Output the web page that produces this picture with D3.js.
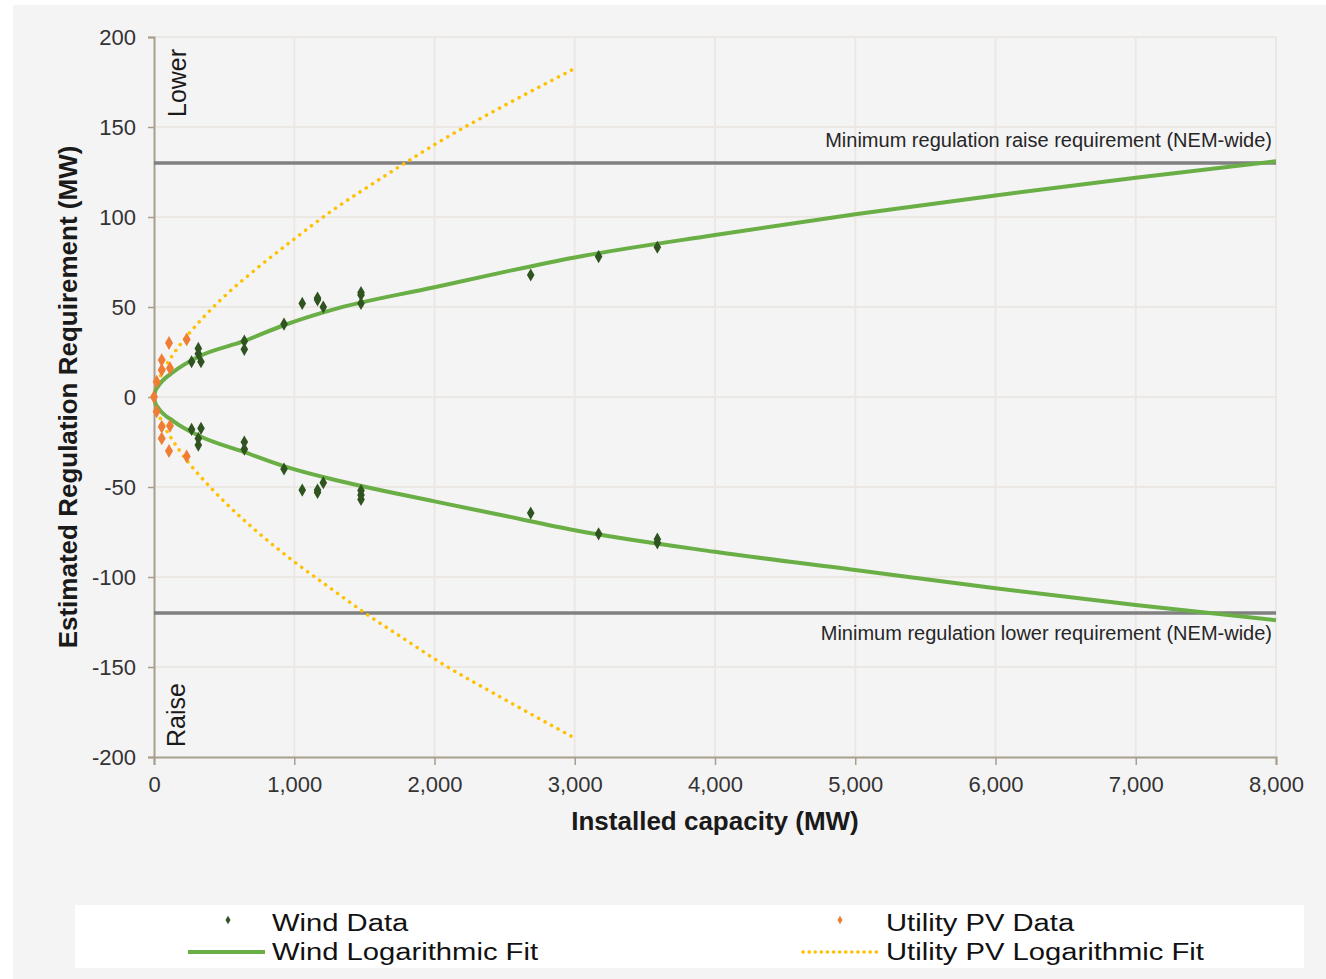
<!DOCTYPE html>
<html>
<head>
<meta charset="utf-8">
<script src="https://cdn.jsdelivr.net/npm/d3@7"></script>
<style>
  html, body { margin: 0; padding: 0; background: #ffffff; }
  svg { display: block; }
  text { font-family: "Liberation Sans", Arial, sans-serif; }
</style>
</head>
<body>
<svg id="chart" width="1326" height="979"></svg>
<script>
// ---------------- DATA ----------------
const xTicks = [0, 1000, 2000, 3000, 4000, 5000, 6000, 7000, 8000];
const yTicks = [200, 150, 100, 50, 0, -50, -100, -150, -200];

// Wind data points (installed capacity MW, requirement MW)
const windX = [268, 316, 316, 335, 644, 644, 927, 1057, 1166, 1166, 1207, 1476, 1476, 1476, 2686, 3170, 3589,
               268, 335, 316, 316, 644, 644, 927, 1057, 1166, 1166, 1207, 1476, 1476, 1476, 2686, 3170, 3589, 3589];
const windY = [19.6, 27, 24, 19.6, 31, 26.5, 40.5, 52, 55, 54, 50, 58, 56.7, 52, 67.8, 78, 83.2,
               -18, -17.4, -23, -26.7, -25, -29, -40, -51.7, -51.7, -53, -47.6, -52, -54.5, -56.9, -64.5, -76, -79, -81];

// Utility PV data points
const pvX = [0, 19, 55, 55, 107, 114, 233, 19, 55, 55, 107, 114, 233];
const pvY = [0, 8.5, 20.5, 15, 30, 16, 32, -8, -16.5, -23, -30, -16, -33];

// Wind logarithmic fit
const windFitX = [0, 8, 30, 140, 320, 640, 930, 1250, 2000, 2500, 3000, 4000, 5000, 6000, 7000, 8000];
const windFitUpper = [0, 3, 6, 14, 22.5, 31, 40, 48, 61, 69.5, 77.5, 90, 101.5, 112, 121.8, 131];
const windFitLower = [0, -3, -6, -13.5, -21.5, -30.5, -38.5, -45.3, -58, -66, -74, -86, -96.1, -106.3, -115.6, -124];

// Utility PV logarithmic fit
const pvFitX = [0, 8, 31, 78, 145, 180, 252, 335, 500, 750, 1000, 1254, 1500, 1790, 2000, 2500, 3000];
const pvFitUpper = [0, 3.6, 8.9, 16.5, 24.6, 28.4, 35.5, 42.8, 55.8, 72.5, 87.8, 102.7, 115.5, 130, 140.2, 162, 182.5];
const pvFitLower = [0, -3.8, -9.2, -17, -25.5, -29.5, -37, -44.5, -58, -75.8, -91.5, -106, -119.8, -134.7, -145.5, -168, -189.5];

// Reference lines
const refValues = [130, -120];
const refLabels = ["Minimum regulation raise requirement (NEM-wide)", "Minimum regulation lower requirement (NEM-wide)"];

const legendLabels = ["Wind Data", "Wind Logarithmic Fit", "Utility PV Data", "Utility PV Logarithmic Fit"];

// ---------------- DRAW ----------------
const svg = d3.select("#chart");
const W = 1326, H = 979;

svg.append("rect").attr("x", 13).attr("y", 5).attr("width", W - 13).attr("height", H - 5).attr("fill", "#f5f4f5");

const x = d3.scaleLinear().domain([0, 8000]).range([154, 1276]);
const y = d3.scaleLinear().domain([-200, 200]).range([757, 37]);

// gridlines
const grid = svg.append("g");
grid.selectAll("line.v").data(xTicks.filter(d => d > 0)).join("line")
  .attr("x1", d => x(d)).attr("x2", d => x(d)).attr("y1", y(200)).attr("y2", y(-200))
  .attr("stroke", "#ebe8e4").attr("stroke-width", 2);
grid.selectAll("line.h").data(yTicks.filter(d => d > -200)).join("line")
  .attr("x1", x(0)).attr("x2", x(8000)).attr("y1", d => y(d)).attr("y2", d => y(d))
  .attr("stroke", "#ebe8e4").attr("stroke-width", 2);

// axes
const axisColor = "#a89e8e";
const yAxis = svg.append("g").attr("transform", `translate(${x(0)},0)`)
  .call(d3.axisLeft(y).tickValues(yTicks).tickSize(6).tickPadding(12).tickFormat(d => String(d)));
const xAxis = svg.append("g").attr("transform", `translate(0,${y(-200)})`)
  .call(d3.axisBottom(x).tickValues(xTicks).tickSize(8).tickPadding(10).tickFormat(d3.format(",")));
[xAxis, yAxis].forEach(a => {
  a.select(".domain").attr("stroke", axisColor).attr("stroke-width", 2);
  a.selectAll(".tick line").attr("stroke", axisColor).attr("stroke-width", 1.5);
  a.selectAll(".tick text").attr("fill", "#333333").attr("font-size", 22)
    .attr("font-family", "'Liberation Sans', Arial, sans-serif");
});
yAxis.selectAll(".tick text").attr("dy", "0.36em");
xAxis.selectAll(".tick text").attr("dy", "0.78em");

// reference lines
svg.selectAll("line.ref").data(refValues).join("line")
  .attr("x1", x(0)).attr("x2", x(8000)).attr("y1", d => y(d)).attr("y2", d => y(d))
  .attr("stroke", "#808080").attr("stroke-width", 3.5);
svg.selectAll("text.ref").data(refLabels).join("text")
  .attr("x", 1272).attr("y", (d, i) => i === 0 ? y(refValues[0]) - 16 : y(refValues[1]) + 27)
  .attr("text-anchor", "end").attr("font-size", 20).attr("fill", "#262626").text(d => d);

// fit lines
const line = d3.line().x(d => x(d[0])).y(d => y(d[1])).curve(d3.curveMonotoneX);
const pvUp = pvFitX.map((v, i) => [v, pvFitUpper[i]]);
const pvLo = pvFitX.map((v, i) => [v, pvFitLower[i]]);
const wUp = windFitX.map((v, i) => [v, windFitUpper[i]]);
const wLo = windFitX.map((v, i) => [v, windFitLower[i]]);

[pvUp, pvLo].forEach(pts => {
  svg.append("path").attr("d", line(pts)).attr("fill", "none")
    .attr("stroke", "#ffc000").attr("stroke-width", 3.5)
    .attr("stroke-linecap", "round").attr("stroke-dasharray", "0.1,7.3");
});
[wUp, wLo].forEach(pts => {
  svg.append("path").attr("d", line(pts)).attr("fill", "none")
    .attr("stroke", "#6aae46").attr("stroke-width", 4);
});

// points
const diamond = d3.symbol().type(d3.symbolDiamond);
svg.append("g").selectAll("path").data(pvX.map((v, i) => [v, pvY[i]])).join("path")
  .attr("transform", d => `translate(${x(d[0])},${y(d[1])})`)
  .attr("d", diamond.size(55)).attr("fill", "#ef7d35");
svg.append("g").selectAll("path").data(windX.map((v, i) => [v, windY[i]])).join("path")
  .attr("transform", d => `translate(${x(d[0])},${y(d[1])})`)
  .attr("d", diamond.size(50)).attr("fill", "#2f5420");

// axis titles
svg.append("text").attr("transform", "translate(77,397) rotate(-90)")
  .attr("text-anchor", "middle").attr("font-size", 26).attr("font-weight", "bold")
  .attr("fill", "#1a1a1a").text("Estimated Regulation Requirement (MW)");
svg.append("text").attr("x", 715).attr("y", 830)
  .attr("text-anchor", "middle").attr("font-size", 26).attr("font-weight", "bold")
  .attr("fill", "#1a1a1a").text("Installed capacity (MW)");

// Lower / Raise annotations
svg.append("text").attr("transform", "translate(186,117) rotate(-90)")
  .attr("font-size", 25).attr("fill", "#1a1a1a").text("Lower");
svg.append("text").attr("transform", "translate(185,747) rotate(-90)")
  .attr("font-size", 25).attr("fill", "#1a1a1a").text("Raise");

// legend
const lg = svg.append("g");
lg.append("rect").attr("x", 75).attr("y", 905).attr("width", 1229).attr("height", 63).attr("fill", "#ffffff");
lg.append("path").attr("transform", "translate(228,920)").attr("d", d3.symbol().type(d3.symbolDiamond).size(22)()).attr("fill", "#2f5420");
lg.append("path").attr("transform", "translate(840,920)").attr("d", d3.symbol().type(d3.symbolDiamond).size(22)()).attr("fill", "#ef7d35");
lg.append("line").attr("x1", 188).attr("x2", 265).attr("y1", 952).attr("y2", 952)
  .attr("stroke", "#6aae46").attr("stroke-width", 4);
lg.append("line").attr("x1", 803).attr("x2", 880).attr("y1", 952).attr("y2", 952)
  .attr("stroke", "#ffc000").attr("stroke-width", 3.5).attr("stroke-linecap", "round").attr("stroke-dasharray", "0.1,6");
const legPos = [[272, 931], [272, 960], [886, 931], [886, 960]];
lg.selectAll("text").data(legendLabels).join("text")
  .attr("transform", (d, i) => `translate(${legPos[i][0]},${legPos[i][1]}) scale(1.27,1.05)`)
  .attr("font-size", 23).attr("fill", "#111111").text(d => d);
</script>
</body>
</html>
